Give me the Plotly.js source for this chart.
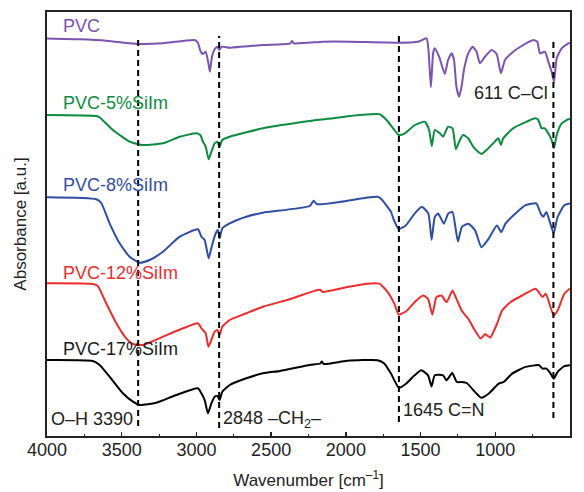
<!DOCTYPE html>
<html>
<head>
<meta charset="utf-8">
<script src="https://cdn.plot.ly/plotly-3.0.1.min.js"></script>
<style>
  html, body { margin: 0; padding: 0; background: #fff; }
  #chart { width: 584px; height: 492px; }
</style>
</head>
<body>
<div id="chart"></div>
<script>
// FTIR spectra, stacked with vertical offsets (arbitrary absorbance units)
const wnPVC = [4000,3782,3604,3447,3380,3224,3012,2990,2974,2956,2938,2920,2910,2896,2878,2860,2847,2831,2777,2555,2371,2360,2349,2153,1974,1661,1516,1460,1447,1431,1416,1405,1376,1338,1316,1291,1276,1260,1242,1224,1210,1181,1152,1125,1103,1069,1025,991,962,935,880,824,746,719,701,668,645,623,607,589,556,511,500];
const absPVC = [3.975,3.967,3.953,3.927,3.92,3.927,3.96,3.933,3.853,3.82,3.843,3.727,3.643,3.793,3.867,3.893,3.86,3.893,3.883,3.91,3.927,3.953,3.927,3.943,3.943,3.933,3.943,3.977,3.86,3.487,3.827,3.877,3.793,3.62,3.76,3.827,3.76,3.493,3.393,3.51,3.66,3.827,3.893,3.843,3.727,3.793,3.86,3.82,3.627,3.76,3.843,3.9,3.96,3.943,3.827,3.843,3.743,3.643,3.543,3.777,3.877,3.927,3.93];

const wn5 = [4000,3670,3648,3559,3447,3358,3224,3112,3001,2974,2956,2938,2918,2900,2878,2860,2845,2827,2777,2555,2242,2086,1974,1773,1728,1684,1646,1605,1538,1471,1443,1425,1405,1371,1349,1316,1286,1264,1237,1215,1181,1148,1115,1092,1058,1014,980,962,947,880,790,734,712,690,668,639,623,607,589,556,511,500];
const abs5 = [3.21,3.20,3.187,3.06,2.943,2.91,2.927,2.993,3.027,3.01,2.943,2.893,2.767,2.843,2.927,2.943,2.893,2.96,2.993,3.077,3.15,3.177,3.20,3.217,3.16,3.077,3.01,3.027,3.11,3.143,3.06,2.90,3.06,3.027,2.993,3.093,3.077,2.87,2.96,3.01,2.977,2.893,2.843,2.82,2.86,2.927,2.977,2.91,2.977,3.077,3.143,3.177,3.16,3.077,3.077,3.01,2.96,2.88,3.01,3.127,3.167,3.17];

const wn8 = [4000,3670,3637,3581,3514,3447,3380,3313,3224,3112,2990,2967,2945,2918,2898,2871,2856,2845,2827,2777,2666,2555,2242,2216,2193,2035,1855,1788,1766,1698,1679,1646,1599,1540,1492,1448,1426,1405,1382,1344,1315,1287,1250,1224,1180,1135,1093,1045,989,960,932,865,797,725,696,678,658,635,609,583,538,500];
const abs8 = [2.387,2.367,2.33,2.127,1.927,1.793,1.733,1.76,1.843,1.993,2.067,1.993,1.96,1.777,1.893,2.027,2.06,1.977,2.077,2.127,2.193,2.233,2.30,2.352,2.318,2.342,2.385,2.392,2.375,2.241,2.16,2.07,2.106,2.224,2.293,2.224,1.962,2.19,2.224,2.123,2.224,2.241,1.945,2.089,2.123,2.056,1.888,1.972,2.106,2.039,2.123,2.224,2.308,2.325,2.224,2.193,2.241,2.14,2.03,2.19,2.308,2.325];

const wn12 = [4000,3693,3660,3604,3536,3470,3425,3358,3224,3090,2990,2967,2938,2920,2900,2878,2860,2845,2827,2777,2666,2555,2376,2216,2171,2155,1991,1855,1776,1720,1675,1646,1597,1540,1484,1450,1421,1394,1360,1326,1286,1265,1225,1180,1135,1098,1068,1034,989,955,899,820,729,684,662,609,583,538,500];
const abs12 = [1.527,1.52,1.50,1.327,1.127,0.977,0.92,0.91,0.993,1.077,1.127,1.077,1.027,0.893,0.96,1.043,1.06,1.01,1.093,1.16,1.227,1.293,1.367,1.449,1.463,1.44,1.489,1.523,1.523,1.439,1.321,1.214,1.247,1.338,1.405,1.372,1.214,1.389,1.405,1.338,1.456,1.389,1.254,1.17,1.052,0.975,1.019,0.985,1.12,1.254,1.338,1.405,1.473,1.389,1.422,1.206,1.254,1.422,1.475];

const wn17 = [4000,3693,3648,3581,3492,3425,3380,3269,3135,2990,2967,2945,2923,2900,2878,2860,2845,2827,2777,2666,2555,2441,2242,2171,2161,2148,1991,1788,1743,1698,1646,1597,1540,1495,1450,1427,1405,1349,1326,1288,1258,1225,1191,1135,1094,1045,977,944,887,797,707,684,658,633,609,583,538,500];
const abs17 = [0.76,0.75,0.71,0.593,0.427,0.343,0.31,0.333,0.41,0.477,0.427,0.36,0.227,0.327,0.393,0.40,0.36,0.443,0.51,0.577,0.627,0.651,0.71,0.725,0.745,0.72,0.752,0.758,0.725,0.624,0.483,0.523,0.607,0.657,0.607,0.496,0.607,0.607,0.557,0.631,0.54,0.54,0.53,0.439,0.382,0.422,0.523,0.54,0.624,0.691,0.708,0.674,0.674,0.631,0.573,0.641,0.698,0.708];

const seriesNames = ['PVC', 'PVC-5%SiIm', 'PVC-8%SiIm', 'PVC-12%SiIm', 'PVC-17%SiIm'];
const seriesColors = ['#7b53b1', '#0b8c3f', '#2f4ea3', '#ef2b2b', '#000000'];

// Assigned bands (cm-1) and their labels
const bandPositions = [3390, 2848, 1645, 611];
const bandLabels = ['O–H 3390', '2848 –CH<sub>2</sub>–', '1645 C=N', '611 C–Cl'];

const xs = [wnPVC, wn5, wn8, wn12, wn17];
const ys = [absPVC, abs5, abs8, abs12, abs17];

const traces = xs.map((x, i) => ({
  x: x, y: ys[i], type: 'scatter', mode: 'lines', name: seriesNames[i],
  line: { color: seriesColors[i], width: 2, shape: 'spline', smoothing: 0.5 }, hoverinfo: 'skip'
}));

const font = 'Arial, "Liberation Sans", sans-serif';

// Series name labels, placed above each trace
const namePos = [[0.026, 0.967], [0.026, 0.785], [0.026, 0.591], [0.026, 0.384], [0.026, 0.205]];
const annotations = seriesNames.map((n, i) => ({
  text: n, xref: 'paper', yref: 'paper', x: namePos[i][0], y: namePos[i][1],
  xanchor: 'left', yanchor: 'middle', showarrow: false,
  font: { family: font, size: 18, color: seriesColors[i] === '#000000' ? '#1a1a1a' : seriesColors[i] }
}));

const bandLabelPos = [[0.004, 0.04], [0.333, 0.04], [0.676, 0.061], [0.812, 0.81]];
bandLabels.forEach((t, i) => annotations.push({
  text: t, xref: 'paper', yref: 'paper', x: bandLabelPos[i][0], y: bandLabelPos[i][1],
  xanchor: 'left', yanchor: 'middle', showarrow: false,
  font: { family: font, size: 18, color: '#222' }
}));

// Dashed guide lines at the assigned bands
const guideSpan = [[0.10, 4.0], [0.08, 4.0], [0.14, 4.04], [0.18, 3.96]];
const shapes = bandPositions.map((b, i) => ({
  type: 'line', xref: 'x', yref: 'y', x0: b, x1: b, y0: guideSpan[i][0], y1: guideSpan[i][1],
  line: { color: '#000', width: 2, dash: '6px,4px' }
}));

const layout = {
  width: 584, height: 492,
  margin: { l: 47, r: 14, t: 12, b: 56 },
  paper_bgcolor: '#fff', plot_bgcolor: '#fff',
  showlegend: false,
  font: { family: font, color: '#222' },
  xaxis: {
    range: [4000, 500], tickvals: [4000, 3500, 3000, 2500, 2000, 1500, 1000, 500],
    ticks: 'inside', ticklen: 4, tickwidth: 1.5, tickcolor: '#222',
    ticklabelstandoff: -4,
    minor: { dtick: 250, tick0: 500, ticks: 'inside', ticklen: 2.5, tickwidth: 1, tickcolor: '#222' },
    showgrid: false, zeroline: false,
    showline: true, linecolor: '#222', linewidth: 2, mirror: true,
    tickfont: { family: font, size: 18, color: '#222' },
    title: { text: 'Wavenumber [cm<sup>–1</sup>]', font: { family: font, size: 17, color: '#222' }, standoff: 16 }
  },
  yaxis: {
    range: [0, 4.24], showticklabels: false, ticks: '',
    showgrid: false, zeroline: false,
    showline: true, linecolor: '#222', linewidth: 2, mirror: true,
    title: { text: 'Absorbance [a.u.]', font: { family: font, size: 17, color: '#222' }, standoff: 14 }
  },
  annotations: annotations,
  shapes: shapes
};

Plotly.newPlot('chart', traces, layout, { displayModeBar: false, staticPlot: true });
</script>
</body>
</html>
